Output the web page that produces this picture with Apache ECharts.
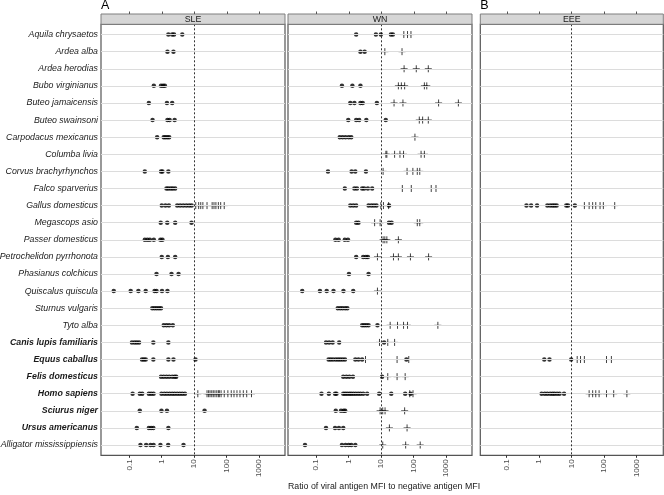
<!DOCTYPE html>
<html><head><meta charset="utf-8">
<script src="https://cdn.jsdelivr.net/npm/echarts@6/dist/echarts.min.js"></script>
<style>html,body{margin:0;padding:0;background:#fff}#c{width:664px;height:495px}</style>
</head><body><div id="c"></div>
<script>
// ---------------- data ----------------
const species = [
  'Aquila chrysaetos','Ardea alba','Ardea herodias','Bubo virginianus','Buteo jamaicensis',
  'Buteo swainsoni','Carpodacus mexicanus','Columba livia','Corvus brachyrhynchos','Falco sparverius',
  'Gallus domesticus','Megascops asio','Passer domesticus','Petrochelidon pyrrhonota','Phasianus colchicus',
  'Quiscalus quiscula','Sturnus vulgaris','Tyto alba','Canis lupis familiaris','Equus caballus',
  'Felis domesticus','Homo sapiens','Sciurus niger','Ursus americanus','Alligator mississippiensis'
];
const boldSpecies = ['Canis lupis familiaris','Equus caballus','Felis domesticus','Homo sapiens','Sciurus niger','Ursus americanus'];
const panelNames = ['SLE','WN','EEE'];
const panelLetters = ['A','','B'];
const tickValues = [0.1, 1, 10, 100, 1000];
const tickLabels = ['0.1','1','10','100','1000'];
const cutoff = 10;
const xTitle = 'Ratio of viral antigen MFI to negative antigen MFI';

// one entry per species row: negative (dots) and positive (crosses) ratios
const sleDots = [
  [1.6,2.1,2.4,4.3],[1.5,2.3],[],[0.57,0.95,1.1,1.25],[0.4,1.45,2.1],
  [0.52,1.5,1.75,2.5],[0.72,1.15,1.3,1.5,1.7],[],[0.30,0.95,1.05,1.6],[1.4,1.6,1.9,2.2,2.6],
  [1.0,1.3,1.66,3.0,3.7,4.6,5.7,7.0,8.4],[0.93,1.48,2.6,8.3],[0.30,0.36,0.43,0.57,0.91,1.05],[1.0,1.55,2.6],[0.69,2.0,3.3],
  [0.033,0.11,0.19,0.32,0.60,0.69,1.02,1.5],[0.51,0.6,0.7,0.82,0.95],[1.15,1.4,1.7,2.2],[0.12,0.145,0.17,0.20,0.55,1.6],[0.245,0.28,0.32,0.55,1.6,2.3,11],
  [0.95,1.15,1.4,1.7,2.1,2.5,2.8],[0.126,0.21,0.25,0.40,0.47,0.56,0.98,1.2,1.45,1.75,2.1,2.5,3.0,3.6,4.3,5.2],[0.21,0.98,1.45,21],[0.17,0.40,0.47,0.55,1.6],[0.22,0.33,0.45,0.56,0.91,1.58,4.7]
];
const sleCrosses = [
  [],[],[],[],[],[],[],[],[],[],
  [11.2,13.8,16,18.6,25,36,41,47,56,66,85],[],[],[],[],
  [],[],[],[],[],
  [],[13,25,28,31,35,39,44,50,56,60,68,85,110,140,170,210,260,330,420,590],[],[],[]
];
const wnDots = [
  [1.7,6.9,9.8,20,23],[2.3,3.1],[],[0.62,1.3,2.3],[1.12,1.5,2.3,2.7,7.4],
  [0.97,1.7,2.1,3.5,13.9],[0.53,0.65,0.8,1.0,1.2],[],[0.23,1.23,1.6,3.4],[0.76,1.5,1.8,2.6,3.0,3.9,5.3],
  [1.12,1.38,1.7,4.1,5.0,6.0,7.2,17.5],[1.7,2.0,17.5,21],[0.39,0.49,0.76,0.95],[1.7,2.8,3.4,3.9],[1.02,4.1],
  [0.037,0.13,0.21,0.34,0.69,1.38],[0.46,0.55,0.65,0.78,0.91],[2.6,3.0,3.5,4.1,7.7],[0.20,0.25,0.32,0.51,12.3],[0.24,0.28,0.33,0.4,0.47,0.55,0.65,0.77,1.6,2.0,2.6,60],
  [0.68,0.85,1.05,1.35,10.7],[0.145,0.245,0.38,0.42,0.68,0.78,0.9,1.05,1.2,1.4,1.65,1.95,2.3,2.8,3.7,8.7,20.5,55,81],[0.40,0.58,0.7,0.78],[0.20,0.38,0.5,0.68],[0.045,0.62,0.8,1.0,1.2,1.6]
];
const wnCrosses = [
  [50,65,83],[13,44],[51,121,284],[34,42,53,215,255],[25,47,590,2400],
  [150,190,284],[110],[14,15,26,38,49,170,215],[11.5,63,95,130,155],[45,85,350,490],
  [9.8,11.8,17],[6.3,9.3,130,155],[11.5,13,15,34],[7.7,24,34,80,290],[],
  [7.7],[],[19,32,49,65,560],[8.9,16,26],[3.3,31,71],
  [16,31,55],[76,96],[9.3,11.2,13.2,53],[18,63],[11.2,57,160]
];
const eeeDots = [
  [],[],[],[],[],[],[],[],[],[],
  [0.41,0.57,0.87,1.8,2.2,2.6,3.0,3.5,6.9,7.8,12.7],[],[],[],[],
  [],[],[],[],[1.45,2.1,9.8],
  [],[1.2,1.5,1.8,2.2,2.6,3.0,3.6,4.3,5.9],[],[],[]
];
const eeeCrosses = [
  [],[],[],[],[],[],[],[],[],[],
  [25,35,45,56,76,96,215],[],[],[],[],
  [],[],[],[],[15,19,25,120,170],
  [],[35,45,56,71,120,200,510],[],[],[]
];

// ---------------- layout ----------------
const FONT = '"Liberation Sans", Arial, Helvetica, sans-serif';
const PANEL_TOP = 24.3, PANEL_H = 431;
const STRIP_TOP = 14;
const panels = [
  {left:101, width:184, min:-1.875, max:3.805},
  {left:288, width:184, min:-1.87,  max:3.80},
  {left:480.3, width:183, min:-1.81, max:3.83}
];
const dotsByPanel = [sleDots, wnDots, eeeDots];
const crossesByPanel = [sleCrosses, wnCrosses, eeeCrosses];

const logTicks = tickValues.map(v => Math.log10(v));
const rowIdx = species.map((s, i) => i);
function toPoints(rows) {
  const out = [];
  rows.forEach((vals, i) => vals.forEach(v => out.push([Math.log10(v), i])));
  return out;
}

const grid = [], xAxis = [], yAxis = [], series = [], graphic = [];
panels.forEach((p, g) => {
  grid.push({left:p.left, top:PANEL_TOP, width:p.width, height:PANEL_H, show:true,
    borderColor:'#555', borderWidth:1.2, backgroundColor:'#fff', containLabel:false, outerBoundsMode:'none'});
  yAxis.push({gridIndex:g, type:'value', inverse:true, min:-0.6, max:species.length - 0.4,
    axisLine:{show:false, onZero:false}, axisTick:{show:false}, splitLine:{show:false},
    axisLabel:{show:g === 0, customValues:rowIdx, margin:3,
      formatter:v => { const n = species[Math.round(v)]; return boldSpecies.includes(n) ? '{b|' + n + '}' : '{n|' + n + '}'; },
      rich:{
        n:{fontStyle:'italic', fontSize:8.8, color:'#1a1a1a', fontFamily:FONT},
        b:{fontStyle:'italic', fontWeight:'bold', fontSize:8.8, color:'#1a1a1a', fontFamily:FONT}
      }}
  });
  xAxis.push({gridIndex:g, type:'value', min:p.min, max:p.max, position:'bottom',
    axisLine:{show:false, onZero:false}, splitLine:{show:false},
    axisTick:{show:true, customValues:logTicks, length:2.5, lineStyle:{color:'#333', width:1}},
    axisLabel:{customValues:logTicks, rotate:90, margin:4, fontSize:8, color:'#4d4d4d', fontFamily:FONT,
      formatter:v => tickLabels[logTicks.findIndex(t => Math.abs(t - v) < 1e-6)]}
  });
  // horizontal row guide lines
  series.push({type:'scatter', xAxisIndex:g, yAxisIndex:g, data:[], z:1, silent:true,
    markLine:{silent:true, symbol:['none','none'], label:{show:false}, animation:false,
      lineStyle:{color:'#dcdcdc', width:1, type:'solid'},
      data:rowIdx.map(i => ({yAxis:i}))}
  });
  // cutoff dashed line
  series.push({type:'scatter', xAxisIndex:g, yAxisIndex:g, data:[], z:2, silent:true,
    markLine:{silent:true, symbol:['none','none'], label:{show:false}, animation:false,
      lineStyle:{color:'#000', width:0.8, type:[2,2]},
      data:[{xAxis:Math.log10(cutoff)}]}
  });
  series.push({type:'scatter', xAxisIndex:g, yAxisIndex:g, z:4, symbol:'circle', symbolSize:4.5,
    itemStyle:{color:'#000'}, data:toPoints(dotsByPanel[g])});
  series.push({type:'scatter', xAxisIndex:g, yAxisIndex:g, z:3, symbol:'path://M0,5L10,5M5,0L5,10', symbolSize:7,
    itemStyle:{color:'none', borderColor:'#111', borderWidth:1}, data:toPoints(crossesByPanel[g])});

  graphic.push({type:'rect', shape:{x:p.left, y:STRIP_TOP, width:p.width, height:PANEL_TOP - STRIP_TOP},
    style:{fill:'#d6d6d6', stroke:'#7f7f7f', lineWidth:1}, z:10});
  graphic.push({type:'text', x:p.left + p.width / 2, y:STRIP_TOP + (PANEL_TOP - STRIP_TOP) / 2 + 0.5, z:11,
    style:{text:panelNames[g], textAlign:'center', textVerticalAlign:'middle', fontSize:8.8, fontFamily:FONT, fill:'#1a1a1a'}});
  if (panelLetters[g]) {
    graphic.push({type:'text', x:p.left, y:-0.5, z:11,
      style:{text:panelLetters[g], textAlign:'left', textVerticalAlign:'top', fontSize:12.5, fontFamily:FONT, fill:'#000'}});
  }
});
graphic.push({type:'text', x:384, y:487, z:11,
  style:{text:xTitle, textAlign:'center', textVerticalAlign:'middle', fontSize:8.8, fontFamily:FONT, fill:'#1a1a1a'}});

const chart = echarts.init(document.getElementById('c'), null, {renderer:'canvas'});
chart.setOption({animation:false, backgroundColor:'#fff', grid, xAxis, yAxis, series, graphic});

// small ticks above each strip, placed through each panel's x scale
const topTicks = [];
panels.forEach((p, g) => {
  logTicks.forEach(t => {
    const px = Math.round(chart.convertToPixel({xAxisIndex:g}, t)) + 0.5;
    topTicks.push({type:'line', z:11, silent:true,
      shape:{x1:px, y1:STRIP_TOP - 2.5, x2:px, y2:STRIP_TOP},
      style:{stroke:'#555', lineWidth:1}});
  });
});
chart.setOption({graphic: graphic.concat(topTicks)});
</script>
</body></html>
